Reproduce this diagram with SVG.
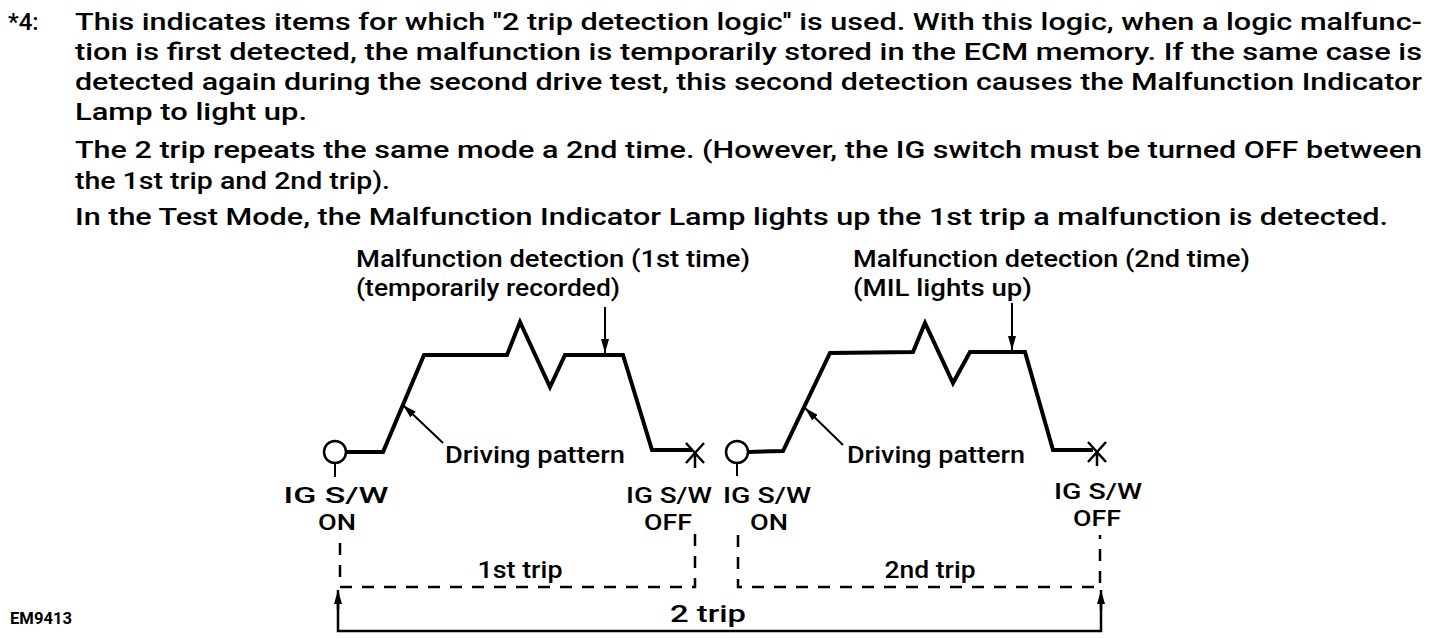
<svg xmlns="http://www.w3.org/2000/svg" width="1440" height="638" viewBox="0 0 1440 638">
<style>
text{font-family:Roboto,"Liberation Sans",Arial,sans-serif;font-weight:500;fill:#000;}
.p{font-size:24px;}
.l{font-size:24px;}
.c{font-size:24px;text-anchor:middle;}
.ig{font-size:22px;text-anchor:middle;}
.pat{fill:none;stroke:#000;stroke-width:4;stroke-linejoin:miter;}
.thin{fill:none;stroke:#000;stroke-width:2;}
.mark{fill:none;stroke:#000;stroke-width:2.5;}
.dash{fill:none;stroke:#000;stroke-width:2.5;stroke-dasharray:12 10;}
.solid{fill:none;stroke:#000;stroke-width:2.5;}
</style>
<defs>
<marker id="ah" viewBox="0 0 14 8" refX="14" refY="4" markerWidth="14" markerHeight="8" markerUnits="userSpaceOnUse" orient="auto">
<path d="M0,0 L14,4 L0,8 Z" fill="#000"/>
</marker>
</defs>
<rect width="1440" height="638" fill="#fff"/>

<g id="note">
<text class="p" x="8" y="30">*4:</text>
<text class="p" x="75" y="30" textLength="1347" lengthAdjust="spacingAndGlyphs">This indicates items for which ''2 trip detection logic'' is used. With this logic, when a logic malfunc-</text>
<text class="p" x="75" y="60" textLength="1347" lengthAdjust="spacingAndGlyphs">tion is first detected, the malfunction is temporarily stored in the ECM memory. If the same case is</text>
<text class="p" x="75" y="90" textLength="1347" lengthAdjust="spacingAndGlyphs">detected again during the second drive test, this second detection causes the Malfunction Indicator</text>
<text class="p" x="75" y="120" textLength="232" lengthAdjust="spacingAndGlyphs">Lamp to light up.</text>
<text class="p" x="75" y="158" textLength="1347" lengthAdjust="spacingAndGlyphs">The 2 trip repeats the same mode a 2nd time. (However, the IG switch must be turned OFF between</text>
<text class="p" x="75" y="189" textLength="315" lengthAdjust="spacingAndGlyphs">the 1st trip and 2nd trip).</text>
<text class="p" x="75" y="225" textLength="1313" lengthAdjust="spacingAndGlyphs">In the Test Mode, the Malfunction Indicator Lamp lights up the 1st trip a malfunction is detected.</text>
</g>

<g id="trip1-pattern">
<polyline class="pat" points="346,452 383,452 424,355 507,355 520,322 550,387 565,355 623,355 652,450 692,450"/>
</g>
<g id="trip2-pattern">
<polyline class="pat" points="748,452 783,451 830,353 913,352 925,323 953,383 970,352 1025,352 1053,450 1093,450"/>
</g>

<g id="ig-on-1">
<circle cx="335" cy="452" r="11" fill="#fff" stroke="#000" stroke-width="2.5"/>
<line class="thin" x1="335" y1="463" x2="335" y2="477"/>
<text class="ig" x="336" y="503" textLength="105" lengthAdjust="spacingAndGlyphs">IG S/W</text>
<text class="ig" x="337" y="530" textLength="38" lengthAdjust="spacingAndGlyphs">ON</text>
</g>
<g id="ig-off-1">
<path class="mark" d="M686,443 L704,463 M704,443 L686,463 M695,453 L695,468"/>
<text class="ig" x="669" y="503" textLength="86" lengthAdjust="spacingAndGlyphs">IG S/W</text>
<text class="ig" x="668" y="530" textLength="48" lengthAdjust="spacingAndGlyphs">OFF</text>
</g>
<g id="ig-on-2">
<circle cx="737" cy="452" r="11" fill="#fff" stroke="#000" stroke-width="2.5"/>
<line class="thin" x1="737" y1="463" x2="737" y2="476"/>
<text class="ig" x="767" y="503" textLength="88" lengthAdjust="spacingAndGlyphs">IG S/W</text>
<text class="ig" x="769" y="530" textLength="38" lengthAdjust="spacingAndGlyphs">ON</text>
</g>
<g id="ig-off-2">
<path class="mark" d="M1088,442 L1106,462 M1106,442 L1088,462 M1097,452 L1097,466"/>
<text class="ig" x="1098" y="499" textLength="88" lengthAdjust="spacingAndGlyphs">IG S/W</text>
<text class="ig" x="1097" y="526" textLength="48" lengthAdjust="spacingAndGlyphs">OFF</text>
</g>

<g id="detect-1">
<text class="l" x="356" y="267" textLength="394" lengthAdjust="spacingAndGlyphs">Malfunction detection (1st time)</text>
<text class="l" x="356" y="296" textLength="264" lengthAdjust="spacingAndGlyphs">(temporarily recorded)</text>
</g>
<g id="detect-2">
<text class="l" x="853" y="267" textLength="397" lengthAdjust="spacingAndGlyphs">Malfunction detection (2nd time)</text>
<text class="l" x="853" y="296" textLength="179" lengthAdjust="spacingAndGlyphs">(MIL lights up)</text>
</g>
<g id="driving-1">
<text class="l" x="445" y="463" textLength="180" lengthAdjust="spacingAndGlyphs">Driving pattern</text>
</g>
<g id="driving-2">
<text class="l" x="847" y="463" textLength="178" lengthAdjust="spacingAndGlyphs">Driving pattern</text>
</g>

<g id="trips">
<text class="c" x="520" y="578" textLength="85" lengthAdjust="spacingAndGlyphs">1st trip</text>
<text class="c" x="930" y="578" textLength="91" lengthAdjust="spacingAndGlyphs">2nd trip</text>
<text class="c" x="708" y="622" textLength="76" lengthAdjust="spacingAndGlyphs">2 trip</text>
</g>

<g id="connectors">
<line class="thin" x1="605" y1="307" x2="605" y2="353" marker-end="url(#ah)"/>
<line class="thin" x1="1012" y1="303" x2="1012" y2="350" marker-end="url(#ah)"/>
<line class="thin" x1="443" y1="443" x2="403" y2="405" marker-end="url(#ah)"/>
<line class="thin" x1="843" y1="445" x2="805" y2="408" marker-end="url(#ah)"/>
<path class="dash" d="M340,543 L340,587 L695,587 L695,525"/>
<path class="dash" d="M738,535 L738,587 L1100,587 L1100,535"/>
<path class="solid" d="M338,597 L338,631 L1101,631 L1101,597"/>
<line class="solid" x1="338" y1="610" x2="338" y2="590" marker-end="url(#ah)"/>
<line class="solid" x1="1101" y1="610" x2="1101" y2="590" marker-end="url(#ah)"/>
</g>

<g id="code">
<text x="10" y="624" style="font-size:16px;font-weight:bold" textLength="62" lengthAdjust="spacingAndGlyphs">EM9413</text>
</g>
</svg>
